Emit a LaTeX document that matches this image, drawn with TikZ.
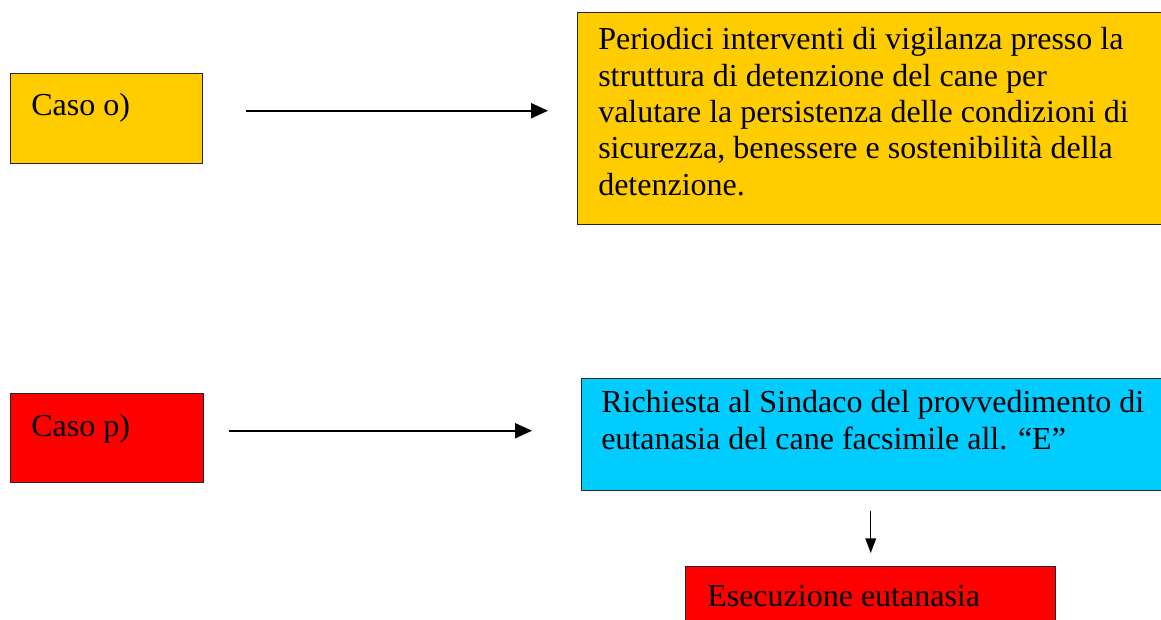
\documentclass[tikz,border=0pt]{standalone}
\usepackage{fontspec}
\setmainfont{Liberation Serif}
\usetikzlibrary{arrows.meta,calc}
\definecolor{boxyellow}{HTML}{FFCC00}
\definecolor{boxred}{HTML}{FF0000}
\definecolor{boxblue}{HTML}{00CCFF}
\tikzset{
  box/.style={draw=black!85, line width=1.1pt, anchor=north west, inner sep=0pt},
  txt/.style={anchor=base west, inner sep=0pt, align=left,
    font=\fontsize{24pt}{27.2pt}\selectfont},
  arr/.style={line width=1.6pt, -{Triangle[length=12.75pt,width=11.25pt]}},
  arrsmall/.style={line width=1.1pt, -{Triangle[length=11pt,width=8pt]}}
}
\begin{document}
\begin{tikzpicture}[x=0.75pt,y=-0.75pt]
\useasboundingbox (0,0) rectangle (1161,619);
\clip (0,0) rectangle (1161,619);
% boxes
\node[box, fill=boxyellow, minimum width=144pt, minimum height=67.5pt] (casoO) at (10,73) {};
\node[box, fill=boxyellow, minimum width=450pt, minimum height=159pt] (vigil) at (577,12) {};
\node[box, fill=boxred, minimum width=144.75pt, minimum height=66.75pt] (casoP) at (10,393) {};
\node[box, fill=boxblue, minimum width=450pt, minimum height=84pt] (rich) at (581,378) {};
\node[box, fill=boxred, minimum width=277.5pt, minimum height=60pt] (esec) at (685,566) {};
% texts (base anchor = baseline of the last line)
\node[txt] (tO) at (31,115) {Caso o)};
\node[txt] (tV) at (598,195) {Periodici interventi di vigilanza presso la\\struttura di detenzione del cane per\\valutare la persistenza delle condizioni di\\sicurezza, benessere e sostenibilità della\\detenzione.};
\node[txt] (tP) at (31,436) {Caso p)};
\node[txt] (tR) at (601,449) {Richiesta al Sindaco del provvedimento di\\eutanasia del cane facsimile all. “E”};
\node[txt] (tE) at (707,606) {Esecuzione eutanasia};
% connectors
\draw[arr, shorten <=32.25pt, shorten >=21.75pt] ($(casoO.east)+(0,-8)$) -- ($(vigil.west)+(0,-8)$);
\draw[arr, shorten <=18.75pt, shorten >=36.75pt] ($(casoP.east)+(0,-7.5)$) -- ($(rich.west)+(0,-4)$);
\draw[arrsmall, shorten <=15pt, shorten >=9.75pt] (esec.north |- rich.south) -- (esec.north);
\end{tikzpicture}
\end{document}
